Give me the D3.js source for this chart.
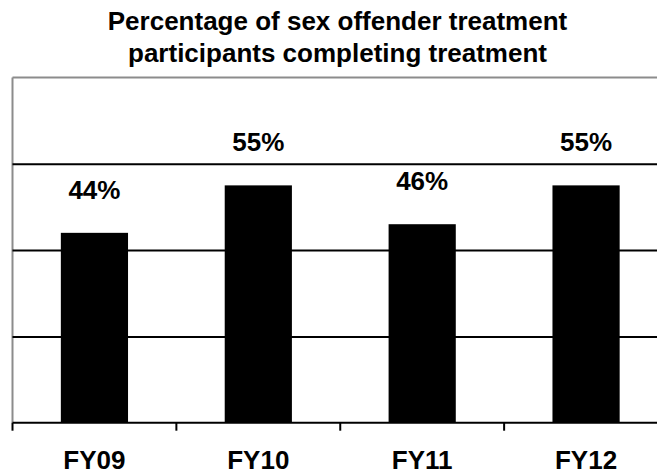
<!DOCTYPE html>
<html>
<head>
<meta charset="utf-8">
<script src="https://cdn.jsdelivr.net/npm/d3@7"></script>
<style>
  html, body { margin: 0; padding: 0; background: #fff; }
  svg { display: block; }
  text { font-family: "Liberation Sans", Arial, Helvetica, sans-serif; font-weight: bold; fill: #000; }
</style>
</head>
<body>
<svg id="chart" width="657" height="474"></svg>
<script>
const categories = ["FY09", "FY10", "FY11", "FY12"];
const values = [44, 55, 46, 55];
const valueLabels = ["44%", "55%", "46%", "55%"];
const gridTicks = [20, 40, 60];
const titleLines = ["Percentage of sex offender treatment", "participants completing treatment"];

const svg = d3.select("#chart");
const W = 657, H = 474;
const plot = { left: 12.5, right: 668, top: 77.5, bottom: 422.7 };

const x = d3.scaleBand().domain(categories).range([plot.left, plot.right]).padding(0);
const y = d3.scaleLinear().domain([0, 80]).range([plot.bottom, plot.top]);

// Title
svg.append("g").selectAll("text").data(titleLines).join("text")
  .attr("x", 337.5).attr("y", (d, i) => 30 + i * 32)
  .attr("text-anchor", "middle")
  .style("font-size", "26px")
  .text(d => d);

// Plot border (gray)
svg.append("line").attr("x1", plot.left).attr("x2", W).attr("y1", y(80)).attr("y2", y(80))
  .attr("stroke", "#8c8c8c").attr("stroke-width", 2);
svg.append("line").attr("x1", plot.left).attr("x2", plot.left).attr("y1", y(80)).attr("y2", y(0))
  .attr("stroke", "#8c8c8c").attr("stroke-width", 2);

// Gridlines
const grid = svg.append("g").attr("transform", `translate(${plot.left},0)`)
  .call(d3.axisLeft(y).tickValues(gridTicks).tickSize(-(plot.right - plot.left)).tickFormat(""));
grid.select(".domain").remove();
grid.selectAll(".tick line").attr("stroke", "#000").attr("stroke-width", 2);

// Bars
const barFrac = 0.41;
svg.append("g").selectAll("rect").data(values).join("rect")
  .attr("x", (d, i) => x(categories[i]) + x.bandwidth() * (1 - barFrac) / 2)
  .attr("width", x.bandwidth() * barFrac)
  .attr("y", d => y(d))
  .attr("height", d => y(0) - y(d))
  .attr("fill", "#000");

// Value labels
svg.append("g").selectAll("text").data(values).join("text")
  .attr("x", (d, i) => x(categories[i]) + x.bandwidth() / 2)
  .attr("y", d => y(d) - 34)
  .attr("text-anchor", "middle")
  .style("font-size", "26px")
  .text((d, i) => valueLabels[i]);

// X axis
svg.append("line").attr("x1", plot.left).attr("x2", W).attr("y1", y(0)).attr("y2", y(0))
  .attr("stroke", "#000").attr("stroke-width", 2);
const boundaries = categories.map(c => x(c)).concat([plot.right]);
svg.append("g").selectAll("line").data(boundaries).join("line")
  .attr("x1", d => d).attr("x2", d => d)
  .attr("y1", y(0)).attr("y2", y(0) + 8)
  .attr("stroke", "#000").attr("stroke-width", 2);

const xAxis = svg.append("g").attr("transform", `translate(0,${y(0)})`)
  .call(d3.axisBottom(x).tickSize(0).tickPadding(28));
xAxis.select(".domain").remove();
xAxis.selectAll("text")
  .style("font-size", "26px")
  .style("font-family", "'Liberation Sans', Arial, sans-serif")
  .style("font-weight", "bold")
  .attr("fill", "#000");
</script>
</body>
</html>
